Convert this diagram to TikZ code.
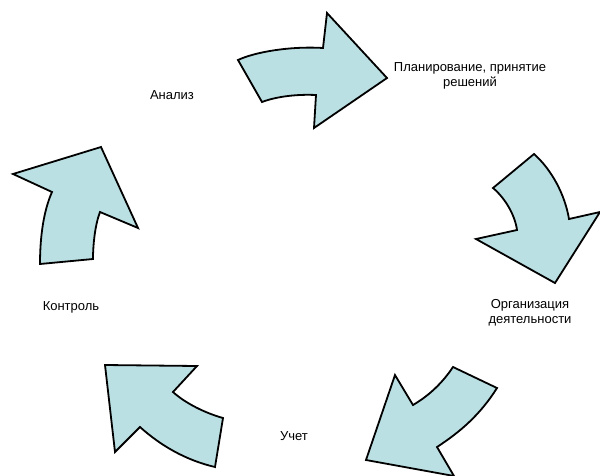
\documentclass[tikz,border=0pt]{standalone}
\usepackage{fontspec}
\setmainfont{Liberation Sans}
\begin{document}
\begin{tikzpicture}[x=1pt,y=-1pt,
  cyclearrow/.style={draw=black, line width=1.8pt, line join=miter, fill=arrowfill},
  label/.style={font=\fontsize{13}{15}\selectfont, align=center, inner sep=0pt}]
\definecolor{arrowfill}{RGB}{187,224,227}
\useasboundingbox (0,0) rectangle (600,475);

% top arrow
\draw[cyclearrow] (238,60) .. controls (255,52) and (290,46) .. (323,48)
  -- (327,13) -- (387,78) -- (314,128) -- (316,95)
  .. controls (295,94) and (275,97) .. (262,102) -- cycle;

% right arrow
\draw[cyclearrow] (534,154) -- (493,188)
  .. controls (505,198) and (515,215) .. (517,230)
  -- (476,239) -- (555,283) -- (600,212) -- (569,219)
  .. controls (565,195) and (552,170) .. (534,154) -- cycle;

% lower right arrow
\draw[cyclearrow] (453,367) -- (497,388)
  .. controls (480,415) and (460,432) .. (437,447)
  -- (454,476) -- (366,460) -- (395,375) -- (413,405)
  .. controls (430,395) and (443,382) .. (453,367) -- cycle;

% lower left arrow
\draw[cyclearrow] (105,365) -- (197,366) -- (173,392)
  .. controls (185,403) and (205,413) .. (223,418)
  -- (215,467)
  .. controls (185,460) and (160,445) .. (140,427)
  -- (115,452) -- cycle;

% left arrow
\draw[cyclearrow] (13,174) -- (101,147) -- (138,228) -- (100,212)
  .. controls (95,225) and (93,245) .. (93,259)
  -- (40,264)
  .. controls (40,235) and (44,210) .. (52,192) -- cycle;

\node[label] (analiz) at (172,95) {Анализ};
\node[label] (plan) at (470,76) {Планирование, принятие\\решений};
\node[label] (org) at (530,313) {Организация\\деятельности};
\node[label] (uchet) at (294,436) {Учет};
\node[label] (kontrol) at (71,307) {Контроль};
\end{tikzpicture}
\end{document}
